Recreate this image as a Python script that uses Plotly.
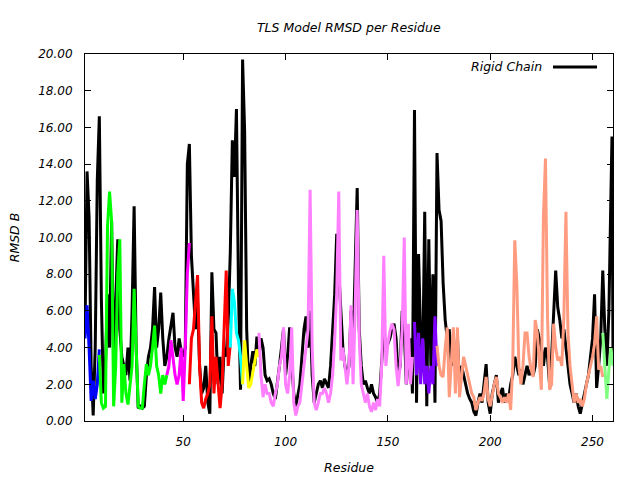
import plotly.graph_objects as go

# ---------------- data ----------------
rigid_res = list(range(2, 260)) + [259.5, 260]
rigid_val = [
    5.0, 13.6, 11.1, 3.0, 0.3, 4.0, 13.1, 16.6, 6.6, 1.5,          # 2-11
    3.0, 6.9, 4.0, 10.9, 3.0, 6.0, 9.9, 5.0, 3.5, 3.0,             # 12-21
    2.5, 4.0, 2.2, 6.0, 11.7, 4.0, 0.7, 0.8, 0.7, 0.8,             # 22-31
    2.5, 3.5, 4.0, 5.0, 7.3, 4.0, 5.0, 7.0, 4.5, 3.0,              # 32-41
    3.5, 4.5, 5.3, 5.9, 4.0, 3.5, 4.5, 3.8, 3.5, 4.0,              # 42-51
    14.0, 15.1, 9.0, 6.7, 5.0, 6.5, 3.0, 1.5, 1.8, 3.0,            # 52-61
    1.0, 0.4, 8.1, 5.0, 4.8, 2.0, 3.5, 1.5, 4.0, 3.5,              # 62-71
    5.5, 9.2, 15.3, 13.3, 17.0, 7.1, 1.7, 19.7, 15.8, 5.0,         # 72-81
    1.9, 3.0, 3.8, 3.0, 4.6, 3.5, 4.5, 4.0, 2.5, 2.2,              # 82-91
    2.3, 2.0, 1.5, 1.2, 2.0, 3.0, 4.0, 5.0, 2.5, 3.5,              # 92-101
    5.1, 3.0, 1.5, 0.8, 1.5, 2.0, 3.5, 5.0, 5.7, 4.0,              # 102-111
    6.0, 2.5, 1.0, 1.5, 2.0, 2.2, 1.8, 2.3, 2.0, 1.8,              # 112-121
    3.0, 5.0, 6.9, 10.2, 8.0, 6.5, 4.0, 3.0, 2.5, 3.0,             # 122-131
    6.0, 4.0, 8.0, 12.7, 5.0, 3.0, 2.0, 2.2, 1.8, 1.5,             # 132-141
    2.0, 1.5, 1.3, 1.0, 1.5, 3.5, 5.0, 4.0, 4.2, 4.5,              # 142-151
    5.0, 5.3, 4.5, 2.5, 3.0, 6.0, 5.0, 2.0, 3.5, 4.5,              # 152-161
    1.5, 16.95, 1.0, 9.1, 4.5, 3.0, 11.4, 0.8, 9.9, 3.0,           # 162-171
    8.0, 1.0, 14.6, 11.5, 10.9, 7.5, 5.5, 4.5, 5.0, 3.0,           # 172-181
    4.0, 3.0, 4.5, 2.0, 3.0, 2.5, 2.0, 1.5, 1.2, 1.0,              # 182-191
    0.5, 0.3, 1.0, 1.5, 1.0, 2.0, 3.1, 1.0, 0.4, 1.5,              # 192-201
    2.0, 2.5, 1.0, 1.5, 1.8, 1.0, 1.5, 1.2, 2.0, 2.5,              # 202-211
    3.5, 3.0, 2.5, 2.8, 2.0, 2.5, 3.0, 2.5, 2.8, 2.5,              # 212-221
    3.0, 5.0, 4.5, 4.0, 3.0, 4.0, 3.5, 2.0, 3.5, 5.5,              # 222-231
    8.2, 6.2, 5.5, 4.5, 5.0, 4.0, 3.0, 2.0, 1.5, 1.0,              # 232-241
    1.5, 0.8, 0.4, 1.0, 1.5, 2.0, 2.5, 3.5, 4.5, 6.9,              # 242-251
    1.8, 3.0, 4.5, 8.2, 5.0, 3.0, 6.0, 12.4,                       # 252-259
    15.5, 3.5,                                                      # 259.5, 260
]

blue_res = list(range(2, 10))
blue_val = [4.5, 6.3, 4.0, 1.1, 2.2, 1.2, 2.0, 3.9]

green_res = list(range(9, 43))
green_val = [3.6, 1.0, 0.7, 0.8, 10.6, 12.5, 10.9, 0.8, 3.0, 8.0,
             9.9, 1.0, 3.1, 1.5, 0.9, 2.0, 3.0, 7.2, 3.5, 0.8,
             0.7, 0.7, 2.0, 3.1, 2.5, 3.0, 4.0, 5.2, 3.0, 2.5,
             1.5, 2.5, 2.0, 2.5]

magenta_res = list(range(42, 54))
magenta_val = [2.5, 3.0, 4.4, 3.5, 2.5, 2.0, 2.5, 4.0, 1.1, 4.0, 8.0, 9.7]

red_res = list(range(53, 74))
red_val = [2.0, 4.5, 5.0, 6.5, 7.95, 3.0, 1.0, 0.7, 1.2, 1.5,
           2.0, 5.7, 1.5, 3.5, 2.0, 0.7, 2.0, 5.0, 8.2, 3.0, 4.2]

cyan_res = list(range(73, 80))
cyan_val = [4.0, 7.2, 6.5, 4.8, 4.4, 3.5, 2.0]

yellow_res = list(range(79, 88))
yellow_val = [2.0, 4.4, 3.0, 1.8, 2.0, 2.6, 3.2, 3.9, 3.5]

violet_res = list(range(87, 163))
violet_val = [4.8, 2.5, 1.3, 2.0, 1.5, 1.5, 1.0, 0.8, 1.5, 2.0,
              3.0, 3.5, 5.1, 2.0, 1.5, 2.5, 5.1, 1.0, 0.3, 0.8,
              1.0, 2.0, 3.0, 4.2, 5.0, 12.6, 4.0, 1.0, 0.6, 1.0,
              1.5, 1.5, 1.8, 1.5, 1.0, 1.5, 2.5, 4.4, 7.0, 12.5,
              3.3, 4.0, 3.0, 2.0, 3.0, 6.3, 2.0, 6.0, 11.5, 4.5,
              2.0, 1.5, 1.0, 1.5, 0.8, 0.5, 1.0, 0.6, 1.2, 0.8,
              3.1, 9.0, 3.0, 4.2, 4.9, 5.3, 5.0, 3.0, 1.9, 3.0,
              5.0, 10.0, 2.0, 5.3, 2.0, 3.5]

purple_res = list(range(163, 175))
purple_val = [5.4, 2.5, 4.8, 2.0, 4.5, 2.0, 3.0, 1.5, 3.0, 2.0, 5.7, 3.0]

salmon_res = list(range(174, 256))
salmon_val = [4.1, 3.0, 2.5, 2.4, 4.0, 5.1, 1.3, 3.0, 5.1, 1.5,      # 174-183
              5.1, 1.3, 2.5, 3.5, 3.0, 2.5, 1.9, 1.5, 1.3, 0.6,      # 184-193
              1.0, 1.3, 1.1, 1.5, 2.4, 1.2, 0.8, 1.5, 2.0, 2.4,      # 194-203
              1.5, 1.3, 1.0, 1.3, 1.0, 1.5, 0.6, 3.0, 9.85, 7.5,     # 204-213
              3.0, 2.0, 3.0, 4.8, 4.8, 3.5, 2.8, 2.4, 5.5, 4.8,      # 214-223
              3.0, 1.7, 11.1, 14.3, 5.7, 1.7, 2.0, 5.3, 4.0, 3.3,    # 224-233
              3.5, 3.0, 5.7, 11.4, 4.8, 3.0, 2.0, 1.0, 1.5, 1.0,     # 234-243
              1.2, 0.8, 1.2, 2.0, 2.5, 3.0, 3.5, 4.2, 5.7, 2.8,      # 244-253
              3.0, 2.4]                                               # 254-255

lgreen_res = list(range(255, 261))
lgreen_val = [4.8, 3.0, 1.2, 2.8, 4.0, 3.0]

x_ticks = [50, 100, 150, 200, 250]
y_ticks = [0, 2, 4, 6, 8, 10, 12, 14, 16, 18, 20]

# ---------------- figure ----------------
FONT = "DejaVu Sans"
TXT = dict(family=FONT, size=12.5, color="black", style="italic")
fig = go.Figure()

fig.add_trace(go.Scatter(x=rigid_res, y=rigid_val, mode="lines", name="Rigid Chain",
                         line=dict(color="#000000", width=3), showlegend=False))

segments = [
    (blue_res, blue_val, "#0000ff"),
    (green_res, green_val, "#00ff00"),
    (magenta_res, magenta_val, "#ff00ff"),
    (red_res, red_val, "#ff0000"),
    (cyan_res, cyan_val, "#00ffff"),
    (yellow_res, yellow_val, "#ffff00"),
    (violet_res, violet_val, "#ff80ff"),
    (purple_res, purple_val, "#8000ff"),
    (salmon_res, salmon_val, "#ff9c80"),
    (lgreen_res, lgreen_val, "#80ff80"),
]
for xs, ys, col in segments:
    fig.add_trace(go.Scatter(x=xs, y=ys, mode="lines", line=dict(color=col, width=3),
                             showlegend=False))

axis_common = dict(
    showline=True, linecolor="black", linewidth=1, mirror="ticks",
    ticks="inside", ticklen=6, tickcolor="black", showgrid=False, zeroline=False,
    automargin=False,
    tickfont=dict(family=FONT, size=12, color="black", style="italic"),
)

fig.update_layout(
    width=640, height=480,
    margin=dict(l=85, r=27, t=54, b=59),
    paper_bgcolor="white", plot_bgcolor="white",
    title=dict(text="TLS Model RMSD per Residue", x=0.545, xanchor="center",
               y=1 - 28 / 480, yanchor="middle", font=TXT),
    xaxis=dict(range=[2, 260], tickvals=x_ticks, ticklabelstandoff=10,
               title=dict(text="Residue", standoff=14, font=TXT),
               **axis_common),
    yaxis=dict(range=[0, 20], tickvals=y_ticks, tickformat=".2f", ticklabelstandoff=9,
               title=dict(text="RMSD B", standoff=15, font=TXT),
               **axis_common),
    showlegend=False,
)

# gnuplot-style key: text on the left, line sample on the right
fig.add_annotation(text="Rigid Chain", xref="paper", yref="paper",
                   x=(544 - 85) / 528, y=1 - (67 - 54) / 367, xanchor="right", yanchor="middle",
                   showarrow=False, font=TXT)
fig.add_shape(type="line", xref="paper", yref="paper",
              x0=(553 - 85) / 528, x1=(597 - 85) / 528,
              y0=1 - (67 - 54) / 367, y1=1 - (67 - 54) / 367,
              line=dict(color="black", width=3))

fig.write_html("out.html")
